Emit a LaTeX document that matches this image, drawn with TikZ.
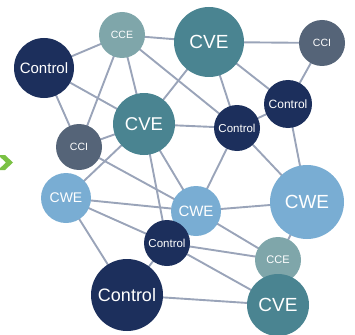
\documentclass[tikz,border=0pt]{standalone}
\usepackage{fontspec}
\setmainfont{Liberation Sans}
\usetikzlibrary{backgrounds}
\definecolor{navy}{HTML}{1C2F5C}
\definecolor{teal}{HTML}{4A8491}
\definecolor{lteal}{HTML}{7FA6AA}
\definecolor{slate}{HTML}{556478}
\definecolor{lblue}{HTML}{79ADD3}
\definecolor{edgec}{HTML}{9AA4B9}
\definecolor{chev}{HTML}{7AC143}
\tikzset{
  bub/.style={circle, inner sep=0pt, text=white, font=\fontsize{#1}{#1}\selectfont},
  ctrl/.style={bub=#1, fill=navy},
  cve/.style={bub=#1, fill=teal},
  cce/.style={bub=#1, fill=lteal},
  cci/.style={bub=#1, fill=slate},
  cwe/.style={bub=#1, fill=lblue},
  link/.style={draw=edgec, line width=1.9pt}
}
\begin{document}
\begin{tikzpicture}[x=1pt,y=-1pt]
\useasboundingbox (0,0) rectangle (355,334);
% chevron
\fill[chev] (-2,155) -- (5,155) -- (13,162.5) -- (5,170) -- (-2,170) -- (6,162.5) -- cycle;
% nodes
\node[ctrl=15, minimum size=60pt] (cTL) at (44,68) {Control};
\node[cce=10.5, minimum size=46pt] (ceT) at (122,35) {CCE};
\node[cve=19, minimum size=70pt] (cvT) at (209,42) {CVE};
\node[cci=10.5, minimum size=46pt] (ciTR) at (322,43) {CCI};
\node[ctrl=12, minimum size=48pt] (cR) at (288,104) {Control};
\node[ctrl=11.5, minimum size=46pt] (cM) at (237,128) {Control};
\node[cve=18.5, minimum size=62pt] (cvM) at (144,124) {CVE};
\node[cci=10.5, minimum size=46pt] (ciL) at (79,147) {CCI};
\node[cwe=14, minimum size=50pt] (cwL) at (66,198) {CWE};
\node[cwe=15, minimum size=50pt] (cwM) at (196,211) {CWE};
\node[cwe=19, minimum size=74pt] (cwR) at (307,202) {CWE};
\node[ctrl=11.5, minimum size=46pt] (cS) at (167,243) {Control};
\node[cce=11, minimum size=46pt] (ceB) at (278,260) {CCE};
\node[cve=19, minimum size=62pt] (cvB) at (278,305) {CVE};
\node[ctrl=18, minimum size=72pt] (cB) at (127,295) {Control};
% edges
\begin{scope}[on background layer]
\foreach \a/\b in {cTL/ceT, cTL/cvM, cTL/ciL,
  ceT/cvT, ceT/ciL, ceT/cvM, ceT/cM,
  cvT/ciTR, cvT/cR, cvT/cM, cvT/cvM,
  ciTR/cR, cR/cM, cR/cwR,
  cvM/cM, cvM/ciL, cvM/cwL, cvM/cS, cvM/cwM,
  cM/cwM, cM/cwR, ciL/cwM,
  cwL/cwM, cwL/cS, cwL/cB,
  cwM/cwR, cwM/ceB,
  cS/ceB, cS/cvB, cS/cB, cB/cvB, cwR/ceB}
  \draw[link] (\a.center) -- (\b.center);
\end{scope}
\end{tikzpicture}
\end{document}
